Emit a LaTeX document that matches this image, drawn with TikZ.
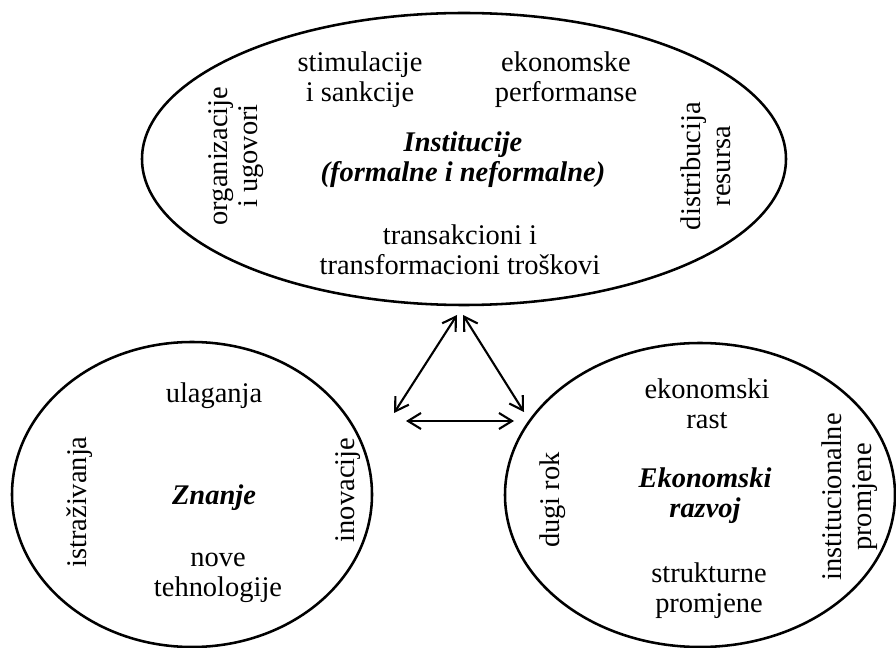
\documentclass[tikz,border=0pt]{standalone}
\usepackage{fontspec}
\setmainfont{Liberation Serif}
\usetikzlibrary{arrows.meta}

\begin{document}
\begin{tikzpicture}[line cap=round,line join=round,>={Straight Barb[length=2.6mm,width=3.2mm]},x=0.02cm,y=0.02cm,
  every node/.style={font=\fontsize{16.2}{17.1}\selectfont,align=center,inner sep=0pt},
  naslov/.style={font=\fontsize{16.2}{17.1}\selectfont\bfseries\itshape}]
\clip(0, 0)rectangle(896, -648);

\draw[line width=1.45pt] (464, -159) ellipse (322 and 146);
\node (stim) at (360, -80) {stimulacije\\i sankcije};
\node (perf) at (566, -80) {ekonomske\\performanse};
\node[naslov] (inst) at (463, -160) {Institucije\\(formalne i neformalne)};
\node (tros) at (460, -250) {transakcioni i\\transformacioni troškovi};
\node[rotate=90] (org) at (236, -156) {organizacije\\i ugovori};
\node[rotate=90] (dist) at (706, -166) {distribucija\\resursa};

\draw[line width=1.45pt] (192, -494.5) ellipse (180 and 152.5);
\node (ulag) at (214, -396) {ulaganja};
\node[naslov] (znanje) at (214, -498) {Znanje};
\node (tehn) at (218, -578) {nove\\tehnologije};
\node[rotate=90] (istr) at (80, -502) {istraživanja};
\node[rotate=90] (inov) at (348, -490) {inovacije};

\draw[line width=1.45pt] (700, -495) ellipse (195 and 152);
\node (rast) at (707, -404) {ekonomski\\rast};
\node[naslov] (razvoj) at (705, -496) {Ekonomski\\razvoj};
\node (strukt) at (709, -591) {strukturne\\promjene};
\node[rotate=90] (rok) at (553, -500) {dugi rok};
\node[rotate=90] (instpr) at (850, -497) {institucionalne\\promjene};

\coordinate (lgore) at (457, -315);
\coordinate (ldole) at (394, -413);
\coordinate (dgore) at (463, -315);
\coordinate (ddole) at (524, -412);
\coordinate (hlijevo) at (406, -421);
\coordinate (hdesno) at (514, -421);
\draw[<->,line width=1.2pt] (ldole) -- (lgore);
\draw[<->,line width=1.2pt] (dgore) -- (ddole);
\draw[<->,line width=1.2pt] (hlijevo) -- (hdesno);

\end{tikzpicture}
\end{document}
